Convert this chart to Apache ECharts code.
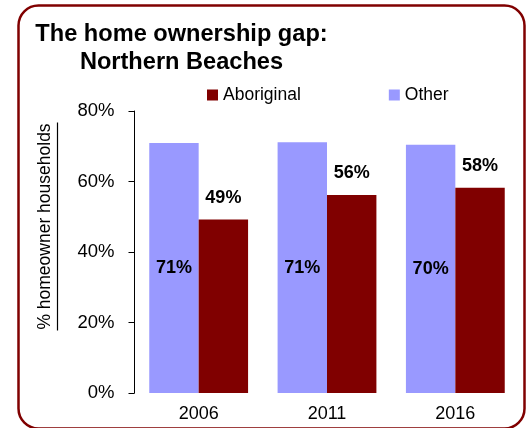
<!DOCTYPE html>
<html>
<head>
<meta charset="utf-8">
<script src="https://cdn.jsdelivr.net/npm/echarts@6/dist/echarts.min.js"></script>
<style>
html,body{margin:0;padding:0;background:#fff;}
#chart{width:528px;height:428px;}
</style>
</head>
<body>
<div id="chart"></div>
<script>
var categories = ['2006', '2011', '2016'];
var otherValues = [70.9, 71.1, 70.4];
var aboriginalValues = [49.2, 56.2, 58.2];
var yTickValues = [0, 20, 40, 60, 80];

var FONT = '"Liberation Sans", Arial, Helvetica, sans-serif';
var chart = echarts.init(document.getElementById('chart'), null, {renderer: 'canvas'});

function pct(p) { return Math.round(p.value) + '%'; }

chart.setOption({
  animation: false,
  backgroundColor: '#ffffff',
  title: {
    text: 'The home ownership gap:\nNorthern Beaches',
    left: 181.5,
    top: 20,
    textAlign: 'center',
    padding: 0,
    textStyle: {fontFamily: FONT, fontSize: 23.6, fontWeight: 'bold', color: '#000', lineHeight: 28}
  },
  legend: {
    data: ['Aboriginal', 'Other'],
    left: 207,
    top: 86,
    padding: 0,
    itemWidth: 11,
    itemHeight: 11,
    itemGap: 88,
    icon: 'rect',
    textStyle: {fontFamily: FONT, fontSize: 17.5, color: '#000'}
  },
  grid: {left: 134.5, right: 8.5, top: 111, bottom: 35, containLabel: false},
  xAxis: {
    type: 'category',
    data: categories,
    axisLine: {show: false},
    axisTick: {show: false},
    axisLabel: {fontFamily: FONT, fontSize: 18, color: '#000', margin: 12}
  },
  yAxis: {
    type: 'value',
    min: yTickValues[0],
    max: yTickValues[yTickValues.length - 1],
    interval: 20,
    splitLine: {show: false},
    axisLine: {show: true, lineStyle: {color: '#000', width: 1}},
    axisTick: {show: true, inside: false, length: 6, lineStyle: {color: '#000'}},
    axisLabel: {fontFamily: FONT, fontSize: 18.5, color: '#000', margin: 20, formatter: '{value}%'}
  },
  series: [
    {
      name: 'Other',
      type: 'bar',
      data: otherValues,
      barGap: '0%',
      barCategoryGap: '23%',
      itemStyle: {color: '#9999FF'},
      label: {show: true, position: 'inside', formatter: pct, fontFamily: FONT, fontSize: 18, fontWeight: 'bold', color: '#000'}
    },
    {
      name: 'Aboriginal',
      type: 'bar',
      data: aboriginalValues,
      barGap: '0%',
      barCategoryGap: '23%',
      itemStyle: {color: '#800000'},
      label: {show: true, position: 'top', distance: 13, formatter: pct, fontFamily: FONT, fontSize: 18, fontWeight: 'bold', color: '#000'}
    }
  ],
  graphic: [
    {
      type: 'rect',
      left: 16, top: 3,
      shape: {width: 506, height: 423, r: 20},
      style: {fill: 'none', stroke: '#800000', lineWidth: 2.5},
      silent: true, z: 100
    },
    {
      type: 'text',
      x: 45, y: 226.5,
      rotation: Math.PI / 2,
      style: {text: '% homeowner households', font: '17.5px ' + FONT, fill: '#000', align: 'center', verticalAlign: 'middle'}
    },
    {
      type: 'line',
      shape: {x1: 57.5, y1: 122.5, x2: 57.5, y2: 330.5},
      style: {stroke: '#000', lineWidth: 1.2}
    }
  ]
});
</script>
</body>
</html>
